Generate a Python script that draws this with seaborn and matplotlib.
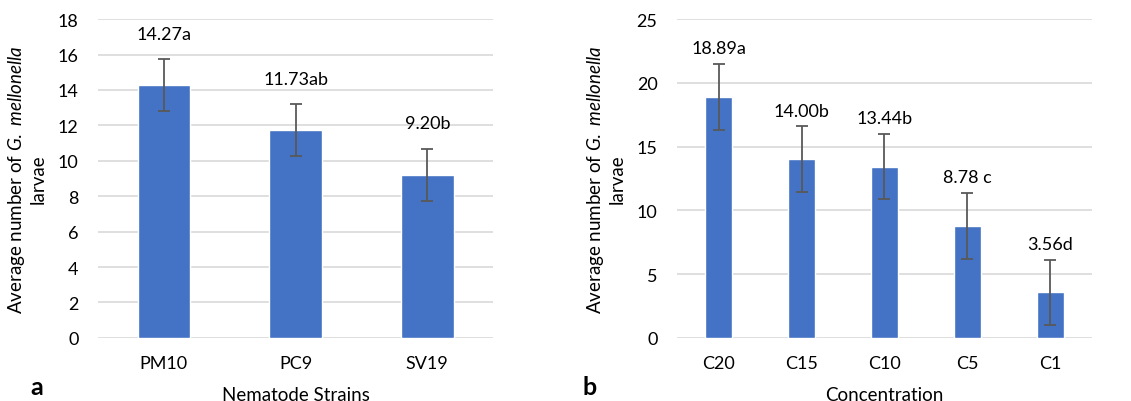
import matplotlib
matplotlib.use("Agg")
import matplotlib.pyplot as plt
import seaborn as sns
import pandas as pd

# Data
strains = ["PM10", "PC9", "SV19"]
strain_means = [14.27, 11.73, 9.20]
strain_err = [1.46, 1.46, 1.46]
strain_labels = ["14.27a", "11.73ab", "9.20b"]

concs = ["C20", "C15", "C10", "C5", "C1"]
conc_means = [18.89, 14.00, 13.44, 8.78, 3.56]
conc_err = [2.58, 2.58, 2.58, 2.58, 2.58]
conc_labels = ["18.89a", "14.00b", "13.44b", "8.78 c", "3.56d"]

sns.set_theme(style="white")
plt.rcParams["font.family"] = ["Lato", "DejaVu Sans"]
plt.rcParams["mathtext.fontset"] = "custom"
plt.rcParams["mathtext.rm"] = "Lato"
plt.rcParams["mathtext.it"] = "Lato:italic"

BAR = "#4472C4"
ERR = "#595959"
GRID = "#D9D9D9"
TXT = "#000000"

fig = plt.figure(figsize=(11.31, 4.02), dpi=100)
ax1 = fig.add_axes([0.0867, 0.157, 0.3493, 0.793])
ax2 = fig.add_axes([0.5986, 0.157, 0.3669, 0.793])

ylabel = "Average number of $\\it{G.\\ mellonella}$\nlarvae"


def panel(ax, cats, means, errs, labels, width, ymax, step, xlabel, off):
    df = pd.DataFrame({"cat": cats, "val": means})
    sns.barplot(data=df, x="cat", y="val", ax=ax, color=BAR, width=width,
                saturation=1, errorbar=None, zorder=3)
    ax.errorbar(range(len(cats)), means, yerr=errs, fmt="none", ecolor=ERR,
                elinewidth=1.3, capsize=4, capthick=1.3, zorder=4)
    for i, (m, e, t) in enumerate(zip(means, errs, labels)):
        ax.text(i, m + e + off, t, ha="center", va="bottom", fontsize=13, color=TXT)
    ax.set_ylim(0, ymax)
    ax.set_xlim(-0.5, len(cats) - 0.5)
    ax.set_yticks(range(0, ymax + 1, step))
    ax.yaxis.grid(True, color=GRID, linewidth=1.2, zorder=0)
    ax.set_axisbelow(True)
    for s in ax.spines.values():
        s.set_visible(False)
    ax.tick_params(axis="both", length=0, labelsize=13, colors="#000000")
    ax.tick_params(axis="x", pad=12)
    ax.tick_params(axis="y", pad=14)
    ax.set_xlabel(xlabel, fontsize=13.5, labelpad=11, color=TXT)
    ax.set_ylabel(ylabel, fontsize=13.5, labelpad=8, color=TXT, linespacing=1.2)


panel(ax1, strains, strain_means, strain_err, strain_labels, 0.4, 18, 2,
      "Nematode Strains", 1.0)
panel(ax2, concs, conc_means, conc_err, conc_labels, 0.33, 25, 5,
      "Concentration", 0.6)

fig.text(0.027, 0.018, "a", fontsize=18, fontweight="bold", color="#000000")
fig.text(0.515, 0.018, "b", fontsize=18, fontweight="bold", color="#000000")

fig.savefig("out.png", dpi=100, facecolor="white")
